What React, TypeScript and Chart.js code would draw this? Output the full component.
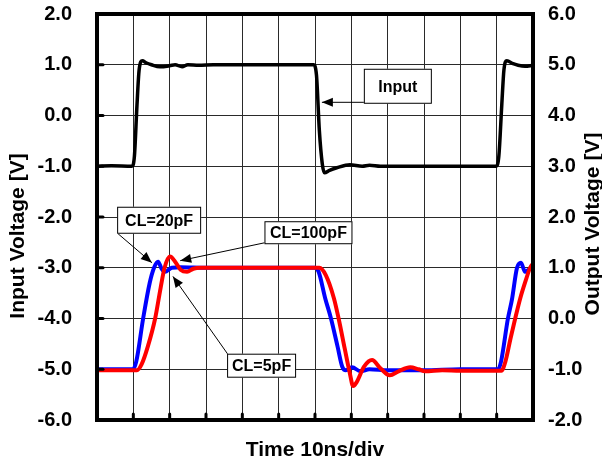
import React, { useEffect, useRef } from 'react';
import { Chart, registerables } from 'chart.js';
Chart.register(...registerables);

// ---- data (time in ns, voltage in V) ----
const inputTime = [0, 4, 9.6, 10.3, 11.0, 11.6, 12.5, 13.5, 15, 17.3, 20, 21.5, 23.4, 25, 28, 32, 40, 45, 50, 55, 59.6, 60.4, 61.2, 62.0, 62.6, 64, 66, 69.6, 73, 75, 78, 85, 90, 100, 109.8, 110.6, 111.4, 112.0, 112.8, 114.5, 115.9, 117.8, 120];
const inputVolt = [-1.0, -0.99, -1.0, -0.8, 0.2, 0.9, 1.08, 1.04, 1.0, 0.96, 0.98, 1.0, 0.96, 1.0, 0.99, 1.0, 1.0, 1.0, 1.0, 1.0, 1.0, 0.8, -0.3, -0.95, -1.13, -1.08, -1.03, -0.97, -1.0, -0.98, -1.0, -1.0, -1.0, -1.0, -1.0, -0.8, 0.2, 0.9, 1.08, 1.02, 0.99, 0.97, 0.99];

const cl5Time = [0, 9.9, 10.8, 12.7, 14.5, 15.7, 16.8, 17.8, 18.7, 20.6, 23, 30, 40, 50, 60, 61, 62.8, 64.4, 66.2, 67.5, 68.5, 70.2, 72.5, 75, 80, 90, 100, 110.4, 111.2, 113.1, 114.2, 115.6, 116.7, 117.8, 119, 120];
const cl5Volt = [-1.0, -1.0, -0.85, 0.0, 0.7, 1.0, 1.12, 0.98, 0.92, 1.0, 1.01, 1.0, 1.0, 1.0, 1.0, 0.92, 0.4, 0.0, -0.55, -0.95, -1.02, -0.96, -1.04, -1.0, -1.02, -1.02, -1.0, -1.0, -0.85, 0.0, 0.37, 1.0, 1.1, 0.92, 0.97, 1.0];

const cl100Time = [0, 11.0, 12.3, 14, 16, 17.5, 18.6, 20.1, 21.5, 23, 24.8, 26.5, 28.5, 35, 45, 55, 61.2, 63, 65.2, 66.5, 68.2, 69.5, 70.5, 71.5, 73.5, 75.7, 78, 80.6, 83, 86.2, 88.5, 90.3, 95, 100, 111.3, 112.4, 113.8, 115.1, 116.5, 118, 119.2, 120];
const cl100Volt = [-1.02, -1.02, -0.9, -0.55, 0.0, 0.6, 1.0, 1.22, 1.12, 0.96, 0.92, 0.98, 1.0, 1.0, 1.0, 1.0, 1.0, 0.85, 0.4, 0.0, -0.6, -1.05, -1.33, -1.25, -0.95, -0.82, -0.98, -1.12, -1.04, -0.96, -1.0, -1.04, -1.02, -1.03, -1.03, -0.85, -0.4, 0.0, 0.4, 0.75, 1.0, 1.08];

const leftMin = -6, leftMax = 2;
const rightMin = -2, rightMax = 6;
const timeMin = 0, timeMax = 120, timeStep = 10;

const xTitle = 'Time 10ns/div';
const leftTitle = 'Input Voltage [V]';
const rightTitle = 'Output Voltage [V]';

// callouts: box centre & arrow in (time, left-axis V)
const callouts = [
  { text: 'Input', cx: 82.8, cy: 0.576, w: 68, h: 35, tail: [73.5, 0.26], tip: [61.9, 0.26] },
  { text: 'CL=20pF', cx: 17.1, cy: -2.064, w: 84, h: 27, tail: [5.8, -2.33], tip: [15.1, -2.9] },
  { text: 'CL=100pF', cx: 58.2, cy: -2.31, w: 88, h: 23, tail: [46.2, -2.507], tip: [22.9, -2.86] },
  { text: 'CL=5pF', cx: 45.3, cy: -4.93, w: 69, h: 24, tail: [36.3, -4.734], tip: [20.9, -3.17] },
];

const FONT = '"Liberation Sans", Arial, Helvetica, sans-serif';

const pts = (t: number[], v: number[]) => t.map((x, i) => ({ x, y: v[i] }));

const decorPlugin = {
  id: 'decor',
  afterDatasetsDraw(chart: any) {
    const { ctx, chartArea: a, scales } = chart;
    const x = scales.x, y = scales.y;
    ctx.save();
    ctx.strokeStyle = '#000';
    ctx.lineCap = 'round';
    ctx.lineWidth = 3;
    for (let t = timeMin + timeStep; t < timeMax; t += timeStep) {
      const px = x.getPixelForValue(t);
      ctx.beginPath();
      ctx.moveTo(px, a.bottom);
      ctx.lineTo(px, a.bottom - 6);
      ctx.stroke();
    }
    for (let v = leftMin + 1; v < leftMax; v += 1) {
      const py = y.getPixelForValue(v);
      ctx.beginPath();
      ctx.moveTo(a.left, py);
      ctx.lineTo(a.left + 6, py);
      ctx.stroke();
    }
    ctx.lineCap = 'butt';
    ctx.lineWidth = 4;
    ctx.strokeRect(a.left, a.top, a.right - a.left, a.bottom - a.top);
    ctx.restore();
  },
  afterDraw(chart: any) {
    const { ctx, chartArea: a, scales } = chart;
    const x = scales.x, y = scales.y;
    ctx.save();
    // callouts
    for (const c of callouts) {
      const tx = x.getPixelForValue(c.tail[0]), ty = y.getPixelForValue(c.tail[1]);
      const hx = x.getPixelForValue(c.tip[0]), hy = y.getPixelForValue(c.tip[1]);
      ctx.strokeStyle = '#000';
      ctx.lineWidth = 1;
      ctx.beginPath();
      ctx.moveTo(tx, ty);
      ctx.lineTo(hx, hy);
      ctx.stroke();
      const ang = Math.atan2(hy - ty, hx - tx);
      const L = 11, W = 4.5;
      ctx.fillStyle = '#000';
      ctx.beginPath();
      ctx.moveTo(hx, hy);
      ctx.lineTo(hx - L * Math.cos(ang) + W * Math.sin(ang), hy - L * Math.sin(ang) - W * Math.cos(ang));
      ctx.lineTo(hx - L * Math.cos(ang) - W * Math.sin(ang), hy - L * Math.sin(ang) + W * Math.cos(ang));
      ctx.closePath();
      ctx.fill();
      const cx = x.getPixelForValue(c.cx), cy = y.getPixelForValue(c.cy);
      ctx.fillStyle = '#fff';
      ctx.fillRect(cx - c.w / 2, cy - c.h / 2, c.w, c.h);
      ctx.strokeRect(cx - c.w / 2 + 0.5, cy - c.h / 2 + 0.5, c.w - 1, c.h - 1);
      ctx.fillStyle = '#000';
      ctx.font = `bold 16px ${FONT}`;
      ctx.textAlign = 'center';
      ctx.textBaseline = 'middle';
      ctx.fillText(c.text, cx, cy + 1);
    }
    // axis titles
    ctx.fillStyle = '#000';
    ctx.font = `bold 21px ${FONT}`;
    ctx.textAlign = 'center';
    ctx.textBaseline = 'middle';
    ctx.fillText(xTitle, (a.left + a.right) / 2, 450);
    ctx.save();
    ctx.translate(18, 236);
    ctx.rotate(-Math.PI / 2);
    ctx.fillText(leftTitle, 0, 0);
    ctx.restore();
    ctx.save();
    ctx.translate(593, 224);
    ctx.rotate(-Math.PI / 2);
    ctx.fillText(rightTitle, 0, 0);
    ctx.restore();
    ctx.restore();
  },
};

const noPad = (s: any) => { s.paddingTop = 0; s.paddingBottom = 0; s.paddingLeft = 0; s.paddingRight = 0; };

export default function App() {
  const ref = useRef<HTMLCanvasElement>(null);
  useEffect(() => {
    const canvas = ref.current;
    if (!canvas) return;
    const tickFont = { family: FONT, size: 20, weight: 'bold' as const };
    const chart = new Chart(canvas, {
      type: 'line',
      data: {
        datasets: [
          { label: 'CL=100pF', data: pts(cl100Time, cl100Volt), yAxisID: 'y2', borderColor: '#ff0000', borderWidth: 4, pointRadius: 0, cubicInterpolationMode: 'monotone', order: 1 },
          { label: 'CL=5pF', data: pts(cl5Time, cl5Volt), yAxisID: 'y2', borderColor: '#0000ff', borderWidth: 4, pointRadius: 0, cubicInterpolationMode: 'monotone', order: 2 },
          { label: 'Input', data: pts(inputTime, inputVolt), yAxisID: 'y', borderColor: '#000000', borderWidth: 3.5, pointRadius: 0, cubicInterpolationMode: 'monotone', order: 3 },
        ],
      },
      options: {
        animation: false,
        responsive: true,
        maintainAspectRatio: false,
        layout: { padding: { top: 14, left: 0, right: 0, bottom: 0 } },
        plugins: { legend: { display: false }, tooltip: { enabled: false } },
        scales: {
          x: {
            type: 'linear', min: timeMin, max: timeMax,
            ticks: { stepSize: timeStep, display: false },
            grid: { color: '#2a2a2a', lineWidth: 1, drawTicks: false },
            border: { display: false },
            afterFit: (s: any) => { s.height = 45; noPad(s); },
          },
          y: {
            type: 'linear', position: 'left', min: leftMin, max: leftMax,
            ticks: { stepSize: 1, color: '#000', font: tickFont, padding: 25, callback: (v: any) => Number(v).toFixed(1) },
            grid: { color: '#2a2a2a', lineWidth: 1, drawTicks: false },
            border: { display: false },
            afterFit: (s: any) => { s.width = 97; noPad(s); },
          },
          y2: {
            type: 'linear', position: 'right', min: rightMin, max: rightMax,
            ticks: { stepSize: 1, color: '#000', font: tickFont, padding: 15, callback: (v: any) => Number(v).toFixed(1) },
            grid: { display: false, drawTicks: false },
            border: { display: false },
            afterFit: (s: any) => { s.width = 69; noPad(s); },
          },
        },
      },
      plugins: [decorPlugin],
    });
    return () => chart.destroy();
  }, []);
  return (
    <div style={{ position: 'fixed', left: 0, top: 0, width: 602, height: 465, background: '#fff' }}>
      <canvas ref={ref} />
    </div>
  );
}
